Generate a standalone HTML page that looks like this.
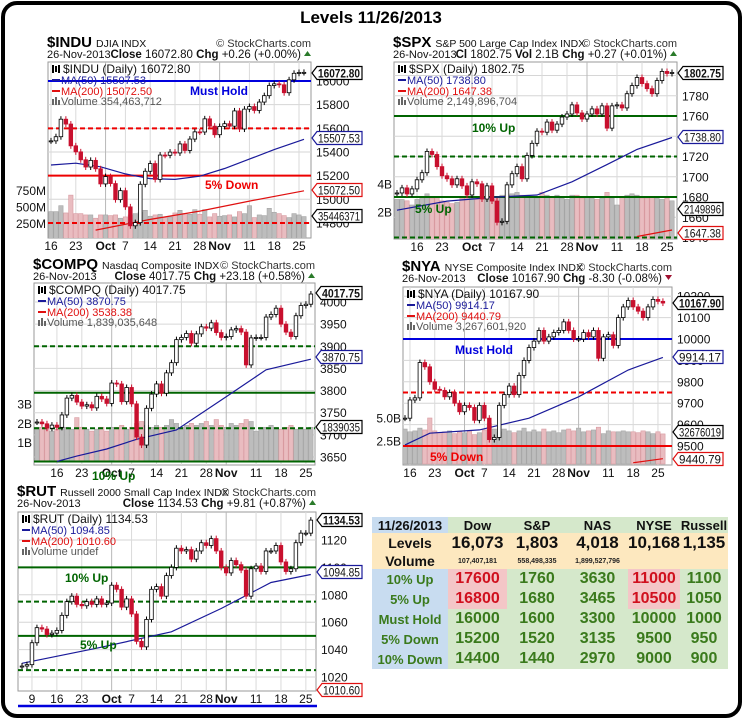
<!DOCTYPE html>
<html><head><meta charset="utf-8">
<style>
html,body{margin:0;padding:0;background:#fff;}
body{width:742px;height:720px;position:relative;overflow:hidden;font-family:"Liberation Sans",Arial,sans-serif;}
#frame{position:absolute;left:1px;top:1px;width:733px;height:709px;border:4px solid #000;border-radius:16px;}
#title{position:absolute;left:0;width:742px;top:8px;text-align:center;font-weight:bold;font-size:17px;}
svg{position:absolute;left:0;top:0;}
#lvl-table{position:absolute;left:372px;top:517px;border-collapse:collapse;table-layout:fixed;font-family:"Liberation Sans",Arial,sans-serif;}
#lvl-table td{padding:0;text-align:center;font-weight:bold;overflow:hidden;white-space:nowrap;}
.hd td{height:16px;font-size:13px;color:#111;background:#d5e8cb;}
td.bl{background:#c8dcf0 !important;color:#111;}
.lv td{height:20px;background:#fde8bf;font-size:17px;color:#111;}
.vo td{height:15px;background:#fde8bf;font-size:7px;color:#222;font-weight:normal;}
.vo td.bl2,.lv td.bl2{background:#fde8bf;font-size:14px;color:#111;font-weight:bold;}
.dr td{height:20px;background:#d5e8cb;font-size:16px;color:#3a7a1c;}
.dr td.bl{font-size:13px;}
.dr td.pk{background:#f4c6c7;color:#d0101e;}
</style></head>
<body>
<div id="frame"></div>
<div id="title">Levels 11/26/2013</div>
<svg id="chart-svg" width="742" height="720"></svg>

<table id="lvl-table">
<colgroup><col style="width:76px"><col style="width:59px"><col style="width:60px"><col style="width:61px"><col style="width:52px"><col style="width:48px"></colgroup>
<tr class="hd"><td class="bl">11/26/2013</td><td>Dow</td><td>S&amp;P</td><td>NAS</td><td>NYSE</td><td>Russell</td></tr>
<tr class="lv"><td class="bl2">Levels</td><td>16,073</td><td>1,803</td><td>4,018</td><td>10,168</td><td>1,135</td></tr>
<tr class="vo"><td class="bl2">Volume</td><td>107,407,181</td><td>558,498,335</td><td>1,899,527,796</td><td></td><td></td></tr>
<tr class="dr"><td class="bl">10% Up</td><td class="pk">17600</td><td>1760</td><td>3630</td><td class="pk">11000</td><td>1100</td></tr>
<tr class="dr"><td class="bl">5% Up</td><td class="pk">16800</td><td>1680</td><td>3465</td><td class="pk">10500</td><td>1050</td></tr>
<tr class="dr"><td class="bl">Must Hold</td><td>16000</td><td>1600</td><td>3300</td><td>10000</td><td>1000</td></tr>
<tr class="dr"><td class="bl">5% Down</td><td>15200</td><td>1520</td><td>3135</td><td>9500</td><td>950</td></tr>
<tr class="dr"><td class="bl">10% Down</td><td>14400</td><td>1440</td><td>2970</td><td>9000</td><td>900</td></tr>
</table>

<script>
// ---------- DATA ----------
const induClose=[15494,15529,15677,15636,15452,15401,15334,15273,15329,15258,15130,15192,15133,14997,15073,14936,14776,14803,15127,15237,15302,15168,15374,15372,15399,15392,15468,15413,15509,15570,15569,15680,15618,15546,15616,15639,15618,15747,15594,15762,15784,15751,15822,15876,15962,15976,15968,15901,16010,16065,16072,16073];
const induVol=[430,430,520,410,680,400,400,380,380,330,380,380,370,380,330,350,380,400,420,450,360,380,390,340,350,410,450,400,390,460,390,460,350,400,360,370,380,350,430,400,520,340,380,370,480,420,400,370,340,400,380,355];
const induMa50Idx=[0,5,10,15,20,25,30,35,40,45,51];
const induMa50=[15290,15305,15275,15215,15175,15168,15195,15260,15340,15420,15507];
const induMa200Idx=[9,20,30,40,51];
const induMa200=[14740,14830,14900,14985,15072];
const induLevels=[16000,15600,15200,14800];
const induTicks=[16000,15800,15600,15400,15200,15000,14800];
const induDateIdx=[0,5,11,15,20,25,30,34,40,45,50];
const induDateLbl=['16','23','Oct','7','14','21','28','Nov','11','18','25'];

const spxClose=[1684,1689,1683,1688,1697,1704,1725,1722,1710,1701,1698,1692,1698,1691,1682,1695,1693,1678,1691,1676,1655,1656,1692,1703,1710,1698,1721,1733,1745,1744,1754,1746,1752,1759,1762,1771,1763,1757,1762,1767,1762,1770,1748,1770,1771,1768,1782,1790,1798,1792,1787,1782,1795,1804,1802,1803];
const spxVol=[2.9,2.9,2.8,2.5,2.9,3.1,3.3,3.0,3.1,2.8,2.7,2.6,2.7,3.0,3.1,3.0,2.9,3.0,3.1,2.9,3.1,3.2,3.2,3.3,3.4,3.2,3.2,3.1,3.0,3.4,3.2,3.1,3.2,3.0,2.9,3.2,3.2,3.0,3.1,3.0,2.9,3.0,3.4,3.0,2.5,3.1,3.2,3.3,3.2,3.0,3.0,3.1,3.0,2.9,3.0,2.8];
const spxMa50Idx=[0,10,20,28,35,42,48,55];
const spxMa50=[1667,1676,1680,1682,1695,1712,1727,1738.8];
const spxMa200Idx=[48,55];
const spxMa200=[1641,1647.4];
const spxLevels=[1760,1720,1680,1640];
const spxTicks=[1800,1780,1760,1740,1720,1700,1680,1660,1640];
const spxDateIdx=[4,9,15,19,24,29,34,38,44,49,54];
const spxDateLbl=['16','23','Oct','7','14','21','28','Nov','11','18','25'];

const compClose=[3729,3725,3715,3722,3717,3745,3783,3789,3774,3765,3768,3761,3787,3781,3771,3817,3815,3775,3807,3770,3695,3677,3760,3792,3815,3794,3840,3863,3915,3920,3929,3907,3928,3944,3941,3953,3931,3920,3922,3937,3940,3932,3858,3919,3920,3920,3966,3972,3986,3950,3932,3922,3969,3992,3995,4018];
const compVol=[1.8,1.8,1.7,1.6,1.7,1.8,1.8,1.7,2.3,1.8,1.7,1.6,1.7,1.8,1.6,1.8,1.8,1.9,1.7,1.8,2.0,2.1,1.9,1.8,1.9,1.8,1.9,2.2,2.0,1.8,1.9,2.0,1.9,2.0,2.1,1.9,2.2,1.9,1.8,2.0,1.9,2.0,2.2,2.1,1.6,1.8,1.8,1.9,1.8,1.7,1.8,1.9,1.7,1.8,1.7,1.8];
const compMa50Idx=[4,8,14,20,28,38,46,55];
const compMa50=[3640,3652,3668,3690,3711,3786,3847,3870.75];
const compLevels=[3900,3795,3715,3640];
const compTicks=[4000,3950,3900,3850,3800,3750,3700,3650];
const compDateIdx=[4,9,15,19,24,29,34,38,44,49,54];
const compDateLbl=['16','23','Oct','7','14','21','28','Nov','11','18','25'];

const nyaClose=[9630,9715,9725,9890,9870,9800,9765,9760,9730,9750,9700,9660,9690,9680,9620,9690,9630,9530,9540,9690,9740,9780,9740,9830,9900,9960,9990,10040,9990,10010,10030,10040,10080,10040,10000,10000,10030,10010,10040,9910,10010,10020,9970,10100,10150,10180,10150,10130,10100,10150,10185,10176,10168];
const nyaVol=[3.8,3.5,3.6,3.9,3.7,5.0,3.6,3.4,3.5,3.6,3.3,3.5,3.4,3.6,3.2,3.4,3.7,4.4,3.8,3.5,3.8,3.6,3.4,3.6,3.9,3.5,3.7,3.5,3.8,3.5,3.6,3.4,3.7,3.8,3.6,3.9,3.5,3.6,3.7,4.0,3.3,3.6,3.5,3.5,3.6,3.5,3.5,3.4,3.6,3.5,3.3,3.5,3.27];
const nyaMa50Idx=[0,5,15,25,35,45,52];
const nyaMa50=[9505,9560,9575,9630,9730,9855,9914];
const nyaMa200Idx=[46,52];
const nyaMa200=[9422,9440.8];
const nyaLevels=[10000,9750,9500];
const nyaTicks=[10200,10100,10000,9900,9800,9700,9600,9500];
const nyaDateIdx=[1,6,12,16,21,26,31,35,41,46,51];
const nyaDateLbl=['16','23','Oct','7','14','21','28','Nov','11','18','25'];

const rutClose=[1028,1029,1045,1056,1055,1051,1052,1054,1065,1075,1079,1073,1072,1075,1073,1077,1073,1074,1087,1084,1071,1077,1066,1046,1042,1062,1084,1086,1079,1094,1100,1114,1112,1113,1106,1112,1118,1116,1121,1112,1100,1096,1105,1102,1098,1079,1099,1101,1097,1112,1112,1116,1104,1097,1099,1118,1125,1125,1134.5];
const rutMa50Idx=[0,15,30,40,50,58];
const rutMa50=[1030,1041,1053,1070,1089,1094.85];
const rutLevels=[1100,1075,1050,1025];
const rutTicks=[1120,1100,1080,1060,1040,1020];
const rutDateIdx=[2,7,12,18,22,27,32,37,41,47,52,57];
const rutDateLbl=['9','16','23','Oct','7','14','21','28','Nov','11','18','25'];

// ---------- RENDER ----------
const NS='http://www.w3.org/2000/svg';
const svg=document.getElementById('chart-svg');
function mk(tag,attrs,parent){const e=document.createElementNS(NS,tag);for(const k in attrs)e.setAttribute(k,attrs[k]);(parent||svg).appendChild(e);return e;}
function tx(x,y,s,attrs,parent){const e=mk('text',Object.assign({x:x,y:y,'font-family':'Liberation Sans, Arial, sans-serif'},attrs),parent);e.textContent=s;return e;}

function drawChart(c){
  const g=mk('g',{});
  
  
  const X=i=>c.x0+i*c.dx;
  const Y=v=>c.yRefPx+(c.yRef-v)*c.k;
  const clipId='clip-'+c.name;
  const cp=mk('clipPath',{id:clipId},g);
  mk('rect',{x:c.L,y:c.T,width:c.R-c.L,height:c.B-c.T},cp);
  const bg=mk('rect',{x:c.L,y:c.T,width:c.R-c.L,height:c.B-c.T,fill:'#fff',stroke:'#9a9a9a','stroke-width':1},g);
  
  
  c.ticks.forEach(t=>{
    const y=Y(t); if(y<c.T-1||y>c.B+1) return;
    mk('line',{x1:c.L,x2:c.R,y1:y,y2:y,stroke:'#d6d6d6','stroke-width':1},g);
    const lb=tx(c.R+5,y+4.5,String(t),{'font-size':12,fill:'#111'},g);
    
    
  });
  c.dateIdx.forEach((d,j)=>{
    const x=X(d);
    const isMonth=(c.dateLbl[j]==='Oct'||c.dateLbl[j]==='Nov');
    mk('line',{x1:x,x2:x,y1:c.T,y2:c.B,stroke:isMonth?'#b8b8b8':'#dadada','stroke-width':1},g);
    const lb=tx(x,c.B+12,c.dateLbl[j],{'font-size':12,'text-anchor':'middle',fill:'#111','font-weight':isMonth?'bold':'normal'},g);
    
    
  });
  const pg=mk('g',{'clip-path':'url(#'+clipId+')'},g);
  if(c.vol){
    c.vol.forEach((v,i)=>{
      const o=i>0?c.close[i-1]:c.close[i];
      const down=c.close[i]<o;
      const h=v*c.volK;
      const b=mk('rect',{x:X(i)-c.dx/2+0.3,y:c.volBase-h,width:c.dx-0.6,height:h,fill:down?'#e9bcc0':'#bdbdbd',stroke:down?'#d89aa0':'#a5a5a5','stroke-width':0.6},pg);
      
      
    });
    c.volLabels.forEach((lbl,j)=>{
      const y=c.volBase-c.volVals[j]*c.volK;
      const t=tx(c.L-2,y+4.5,lbl,{'font-size':12,'text-anchor':'end',fill:'#111'},g);
      
      
    });
  }
  c.levels.forEach((lv,j)=>{
    const y=Y(lv); const st=c.levelStyle[j];
    const ln=mk('line',{x1:c.L,x2:c.R,y1:y,y2:y,stroke:st.color,'stroke-width':2,'stroke-dasharray':st.dash?'5,3':'none'},pg);
    
    
  });
  function maLine(idx,vals,color,nm){
    if(!idx) return;
    const pts=idx.map((d,i)=>X(d).toFixed(1)+','+Y(vals[i]).toFixed(1)).join(' ');
    const pl=mk('polyline',{points:pts,fill:'none',stroke:color,'stroke-width':1.2},pg);
    
    
  }
  maLine(c.ma50Idx,c.ma50,'#1a1a9a','ma50-line');
  maLine(c.ma200Idx,c.ma200,'#e01010','ma200-line');
  c.close.forEach((cl,i)=>{
    const o=i>0?c.close[i-1]:cl;
    const x=X(i); const yo=Y(o), yc=Y(cl);
    const top=Math.min(yo,yc), bot=Math.max(yo,yc);
    const down=cl<o;
    mk('line',{x1:x,x2:x,y1:top-3,y2:bot+3,stroke:down?'#c8102e':'#000','stroke-width':1},pg);
    const bd=mk('rect',{x:x-1.8,y:top,width:3.6,height:Math.max(bot-top,1),fill:down?'#c8102e':'#fff',stroke:down?'#c8102e':'#000','stroke-width':0.8},pg);
    
    
  });
  c.notes.forEach(n=>{
    const t=tx(n.x,n.y,n.t,{'font-size':12,'font-weight':'bold',fill:n.color},g);
    
    
  });
  const lx=c.L+4; let ly=c.T+11;
  mk('rect',{x:lx,y:ly-8,width:2,height:8,fill:'#000'},g);mk('rect',{x:lx+3,y:ly-7,width:2,height:6,fill:'#000'},g);mk('rect',{x:lx+6,y:ly-8,width:2,height:8,fill:'#000'},g);
  const l1=tx(lx+11,ly,c.leg[0],{'font-size':12,fill:'#111'},g);
  
  
  ly+=11;
  mk('rect',{x:lx,y:ly-5,width:8,height:2,fill:'#1a1a9a'},g);
  const l2=tx(lx+9,ly,c.leg[1],{'font-size':11,fill:'#1a1a9a'},g);
  
  
  ly+=11;
  mk('rect',{x:lx,y:ly-5,width:8,height:2,fill:'#e01010'},g);
  const l3=tx(lx+9,ly,c.leg[2],{'font-size':11,fill:'#e01010'},g);
  
  
  ly+=10;
  mk('rect',{x:lx,y:ly-6,width:2,height:6,fill:'#666'},g);mk('rect',{x:lx+3,y:ly-8,width:2,height:8,fill:'#666'},g);mk('rect',{x:lx+6,y:ly-5,width:2,height:5,fill:'#666'},g);
  const l4=tx(lx+9,ly,c.leg[3],{'font-size':11,fill:'#555'},g);
  
  
  c.boxes.forEach(bx=>{
    const y=bx.y; const x=c.R+1; const w=bx.w;
    mk('polygon',{points:`${x},${y} ${x+5},${y-6.5} ${x+w},${y-6.5} ${x+w},${y+6.5} ${x+5},${y+6.5}`,fill:'#fff',stroke:bx.color,'stroke-width':1.2},g);
    const t=tx(x+6,y+4.5,bx.t,{'font-size':12,fill:'#111','font-weight':bx.bold?'bold':'normal',textLength:w-8,lengthAdjust:'spacingAndGlyphs'},g);
    
    
  });
  const h1=tx(c.L-1,c.hy,c.sym,{'font-size':15,'font-weight':'bold',fill:'#000'},g);
  
  
  const sw=h1.getComputedTextLength();
  const h1b=tx(c.L+sw+3,c.hy,c.desc,{'font-size':10.5,fill:'#111'},g);
  
  
  const h1c=tx(c.R,c.hy,'© StockCharts.com',{'font-size':11,'text-anchor':'end',fill:'#333'},g);
  
  
  const h2=tx(c.L-1,c.hy+11,'26-Nov-2013',{'font-size':11,fill:'#111'},g);
  
  
  const h3=mk('text',{x:c.R-10,y:c.hy+11,'font-size':11.5,'text-anchor':'end',fill:'#111','font-family':'Liberation Sans, Arial, sans-serif'},g);
  h3.innerHTML=c.stat;
  
  
  const up=c.chgUp;
  mk('polygon',{points:up?`${c.R-7},${c.hy+9} ${c.R},${c.hy+9} ${c.R-3.5},${c.hy+4}`:`${c.R-7},${c.hy+4} ${c.R},${c.hy+4} ${c.R-3.5},${c.hy+9}`,fill:up?'#2a7a2a':'#a01030'},g);
}

const G={color:'#006400'}, GD={color:'#006400',dash:true}, R={color:'#ee0000'}, RD={color:'#ee0000',dash:true}, B={color:'#0000dd'};
const B_='<tspan font-weight="bold">';
drawChart({name:'indu',L:48,R:311,T:62,B:238,x0:51,dx:4.96,yRef:16000,yRefPx:81,k:0.1183,
  close:induClose,vol:induVol,volBase:240,volK:0.066,volLabels:['750M','500M','250M'],volVals:[750,500,250],
  ma50Idx:induMa50Idx,ma50:induMa50,ma200Idx:induMa200Idx,ma200:induMa200,
  levels:induLevels,levelStyle:[B,RD,R,RD],ticks:induTicks,dateIdx:induDateIdx,dateLbl:induDateLbl,
  notes:[{x:190,y:95,t:'Must Hold',color:'#0000dd'},{x:205,y:189,t:'5% Down',color:'#ee0000'}],
  leg:['$INDU (Daily) 16072.80','MA(50) 15507.53','MA(200) 15072.50','Volume 354,463,712'],
  boxes:[{y:73,t:'16072.80',w:50,color:'#000',bold:true},{y:138,t:'15507.53',w:50,color:'#1a1a9a'},{y:190,t:'15072.50',w:50,color:'#e01010'},{y:216,t:'35446371',w:50,color:'#000'}],
  hy:47,sym:'$INDU',desc:'DJIA  INDX',stat:B_+'Close</tspan> 16072.80  '+B_+'Chg</tspan> +0.26 (+0.00%)',chgUp:true});
drawChart({name:'spx',L:394,R:677,T:62,B:239,x0:397,dx:5.0,yRef:1760,yRefPx:116,k:1.0125,
  close:spxClose,vol:spxVol,volBase:240,volK:14,volLabels:['4B','2B'],volVals:[4,2],
  ma50Idx:spxMa50Idx,ma50:spxMa50,ma200Idx:spxMa200Idx,ma200:spxMa200,
  levels:spxLevels,levelStyle:[G,GD,G,GD],ticks:spxTicks,dateIdx:spxDateIdx,dateLbl:spxDateLbl,
  notes:[{x:472,y:132,t:'10% Up',color:'#006400'},{x:415,y:213,t:'5% Up',color:'#006400'}],
  leg:['$SPX (Daily) 1802.75','MA(50) 1738.80','MA(200) 1647.38','Volume 2,149,896,704'],
  boxes:[{y:73,t:'1802.75',w:45,color:'#000',bold:true},{y:137,t:'1738.80',w:45,color:'#1a1a9a'},{y:209,t:'2149896',w:45,color:'#000'},{y:233,t:'1647.38',w:45,color:'#e01010'}],
  hy:47,sym:'$SPX',desc:'S&P 500 Large Cap Index INDX',stat:B_+'Cl</tspan> 1802.75  '+B_+'Vol</tspan> 2.1B  '+B_+'Chg</tspan> +0.27 (+0.01%)',chgUp:true});
drawChart({name:'compq',L:34,R:315,T:283,B:465,x0:37,dx:4.98,yRef:4000,yRefPx:302,k:0.4429,
  close:compClose,vol:compVol,volBase:462,volK:19.3,volLabels:['3B','2B','1B'],volVals:[3,2,1],
  ma50Idx:compMa50Idx,ma50:compMa50,ma200Idx:null,ma200:null,
  levels:compLevels,levelStyle:[GD,G,GD,G],ticks:compTicks,dateIdx:compDateIdx,dateLbl:compDateLbl,
  notes:[{x:92,y:480,t:'10% Up',color:'#006400'}],
  leg:['$COMPQ (Daily) 4017.75','MA(50) 3870.75','MA(200) 3538.38','Volume 1,839,035,648'],
  boxes:[{y:293,t:'4017.75',w:46,color:'#000',bold:true},{y:357,t:'3870.75',w:46,color:'#1a1a9a'},{y:427,t:'1839035',w:46,color:'#000'}],
  hy:269,sym:'$COMPQ',desc:'Nasdaq Composite  INDX',stat:B_+'Close</tspan> 4017.75  '+B_+'Chg</tspan> +23.18 (+0.58%)',chgUp:true});
drawChart({name:'nya',L:403,R:672,T:287,B:465,x0:405,dx:4.96,yRef:10000,yRefPx:339,k:0.214,
  close:nyaClose,vol:nyaVol,volBase:464,volK:9.2,volLabels:['5.0B','2.5B'],volVals:[5,2.5],
  ma50Idx:nyaMa50Idx,ma50:nyaMa50,ma200Idx:nyaMa200Idx,ma200:nyaMa200,
  levels:nyaLevels,levelStyle:[B,RD,R],ticks:nyaTicks,dateIdx:nyaDateIdx,dateLbl:nyaDateLbl,
  notes:[{x:455,y:354,t:'Must Hold',color:'#0000dd'},{x:430,y:461,t:'5% Down',color:'#ee0000'}],
  leg:['$NYA (Daily) 10167.90','MA(50) 9914.17','MA(200) 9440.79','Volume 3,267,601,920'],
  boxes:[{y:303,t:'10167.90',w:50,color:'#000',bold:true},{y:357,t:'9914.17',w:50,color:'#1a1a9a'},{y:432,t:'32676019',w:50,color:'#000'},{y:459,t:'9440.79',w:50,color:'#e01010'}],
  hy:271,sym:'$NYA',desc:'NYSE Composite Index INDX',stat:B_+'Close</tspan> 10167.90  '+B_+'Chg</tspan> -8.30 (-0.08%)',chgUp:false});
drawChart({name:'rut',L:18,R:316,T:512,B:691,x0:22,dx:4.98,yRef:1120,yRefPx:540,k:1.37,
  close:rutClose,vol:null,
  ma50Idx:rutMa50Idx,ma50:rutMa50,ma200Idx:null,ma200:null,
  levels:rutLevels,levelStyle:[G,GD,G,GD],ticks:rutTicks,dateIdx:rutDateIdx,dateLbl:rutDateLbl,
  notes:[{x:65,y:582,t:'10% Up',color:'#006400'},{x:80,y:649,t:'5% Up',color:'#006400'}],
  leg:['$RUT (Daily) 1134.53','MA(50) 1094.85','MA(200) 1010.60','Volume undef'],
  boxes:[{y:520,t:'1134.53',w:45,color:'#000',bold:true},{y:572,t:'1094.85',w:45,color:'#1a1a9a'},{y:690,t:'1010.60',w:45,color:'#e01010'}],
  hy:496,sym:'$RUT',desc:'Russell 2000 Small Cap Index INDX',stat:B_+'Close</tspan> 1134.53  '+B_+'Chg</tspan> +9.81 (+0.87%)',chgUp:true});
const bl=mk('line',{x1:18,x2:317,y1:706,y2:706,stroke:'#0000dd','stroke-width':2.5});


</script>
</body></html>
